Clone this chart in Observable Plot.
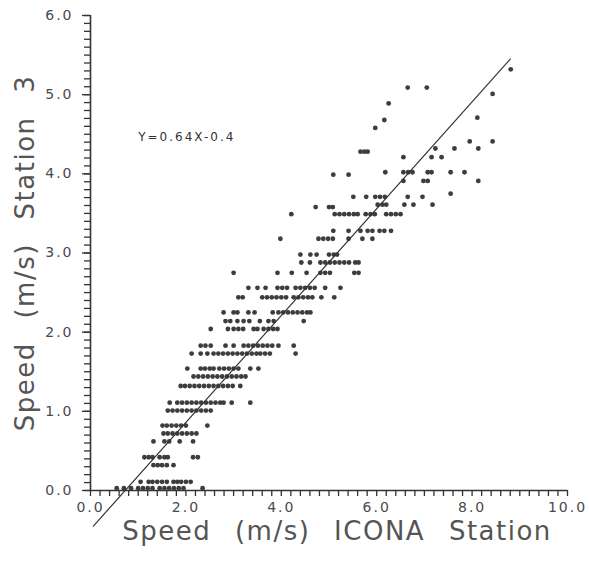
<!DOCTYPE html>
<html>
<head>
<meta charset="utf-8">
<script src="https://cdn.jsdelivr.net/npm/d3@7"></script>
<script src="https://cdn.jsdelivr.net/npm/@observablehq/plot@0.6"></script>
<style>
  html, body { margin: 0; padding: 0; background: #fff; }
  g[aria-description="xticklabels"] text, g[aria-description="yticklabels"] text { letter-spacing: 2px; }
  g[aria-description="axislabels"] text { letter-spacing: 1.5px; word-spacing: 14px; }
  g[aria-description="annotation"] text { letter-spacing: 2px; }
</style>
</head>
<body>
<div id="chart"></div>
<script>
// ---- data: rows of [Station 3 speed, [ICONA speeds]] ----
const lowRows = [
  [0.03, [0.55, 0.7, 0.85, 1.0, 1.1, 1.2, 1.3, 1.45, 1.55, 1.65, 1.75, 1.85, 1.95, 2.35]],
  [0.11, [1.05, 1.22, 1.3, 1.4, 1.5, 1.6, 1.74, 1.82, 1.9, 2.0, 2.1]],
  [0.32, [1.32, 1.41, 1.5, 1.6, 1.74]],
  [0.42, [1.13, 1.22, 1.3, 1.45, 1.55, 1.62, 2.15, 2.25]],
  [0.62, [1.32, 1.55, 1.65, 1.87, 2.15]],
  [0.72, [1.53, 1.62, 1.72, 1.82, 1.92, 2.02, 2.12, 2.22]],
  [0.82, [1.51, 1.6, 1.7, 1.8, 1.9, 2.0, 2.45]],
  [1.01, [1.62, 1.72, 1.82, 1.92, 2.02, 2.12, 2.22, 2.32, 2.42, 2.52]],
  [1.11, [1.66, 1.82, 1.92, 2.02, 2.12, 2.22, 2.32, 2.42, 2.52, 2.62, 2.72, 2.79, 2.96, 3.35]],
  [1.32, [1.89, 1.98, 2.08, 2.18, 2.28, 2.38, 2.48, 2.58, 2.68, 2.78, 2.88, 2.98, 3.14]]
];
const midRows = [
  [1.44, [2.16, 2.26, 2.36, 2.46, 2.56, 2.66, 2.76, 2.86, 2.96, 3.06, 3.16, 3.25]],
  [1.54, [2.03, 2.31, 2.4, 2.5, 2.58, 2.7, 2.8, 2.9, 3.0, 3.1, 3.35, 3.52]],
  [1.73, [2.12, 2.31, 2.45, 2.58, 2.68, 2.78, 2.88, 2.98, 3.08, 3.18, 3.28, 3.38, 3.48, 3.56, 3.66, 3.76, 4.3]],
  [1.83, [2.31, 2.41, 2.52, 2.83, 3.0, 3.21, 3.31, 3.41, 3.51, 3.61, 3.71, 3.81, 3.94, 4.26]],
  [2.04, [2.52, 2.88, 3.0, 3.1, 3.2, 3.42, 3.5, 3.63, 3.73, 3.83, 3.92]],
  [2.14, [2.83, 2.93, 3.08, 3.21, 3.33, 3.55, 3.73, 3.84, 4.47]],
  [2.25, [2.79, 3.0, 3.08, 3.31, 3.44, 3.82, 3.94, 4.04, 4.14, 4.24, 4.34, 4.44, 4.54, 4.61]],
  [2.44, [3.1, 3.19, 3.6, 3.7, 3.8, 3.9, 4.0, 4.1, 4.26, 4.36, 4.46, 4.56, 4.65, 4.84, 5.11]],
  [2.56, [3.31, 3.5, 3.67, 3.92, 4.02, 4.12, 4.3, 4.4, 4.5, 4.6, 4.7, 4.92, 5.24]],
  [2.75, [3.0, 3.92, 4.22, 4.53, 4.82, 4.92, 5.02, 5.53, 5.62]],
  [2.88, [4.42, 4.6, 4.82, 4.92, 5.02, 5.12, 5.22, 5.32, 5.42, 5.55, 5.62]],
  [2.98, [4.4, 4.61, 4.74, 5.0, 5.1, 5.17]]
];
const highRows = [
  [3.18, [3.98, 4.78, 4.88, 4.98, 5.08, 5.41, 5.7, 5.91]],
  [3.28, [5.09, 5.41, 5.66, 5.81, 5.91, 6.06, 6.16, 6.3]],
  [3.49, [4.21, 5.12, 5.22, 5.32, 5.42, 5.52, 5.6, 5.77, 5.87, 5.96, 6.2, 6.3, 6.4, 6.5]],
  [3.58, [4.72, 5.0, 5.08]],
  [3.61, [6.02, 6.12, 6.2, 6.58, 6.77, 7.17]],
  [3.71, [5.51, 5.78, 5.97, 6.07, 6.17, 6.65, 6.96]],
  [3.75, [7.55]],
  [3.91, [6.56, 6.98, 7.07, 8.13]],
  [3.99, [5.09, 5.41]],
  [4.02, [6.18, 6.56, 6.66, 6.75, 7.07, 7.15, 7.55, 7.84]],
  [4.21, [6.56, 7.15, 7.36]],
  [4.28, [5.66, 5.74, 5.81]],
  [4.32, [7.23, 7.63, 8.13]],
  [4.41, [7.95, 8.43]],
  [4.58, [5.97]],
  [4.68, [6.16]],
  [4.71, [8.11]],
  [4.89, [6.25]],
  [5.01, [8.43]],
  [5.09, [6.65, 7.05]],
  [5.32, [8.81]]
];
// fitted line as drawn
const fitX = [0.06, 8.8];
const fitY = [-0.45, 5.45];
const fitLabel = "Y=0.64X-0.4";
const fitLabelX = 1.0;
const fitLabelY = 4.46;

const xMajorTicks = [0, 2, 4, 6, 8, 10];
const xTickLabels = ["0.0", "2.0", "4.0", "6.0", "8.0", "10.0"];
const yMajorTicks = [0, 1, 2, 3, 4, 5, 6];
const yTickLabels = ["0.0", "1.0", "2.0", "3.0", "4.0", "5.0", "6.0"];
const xTitle = "Speed (m/s) ICONA Station";
const yTitle = "Speed (m/s) Station 3";

// ---- build ----
const points = [...lowRows, ...midRows, ...highRows]
  .flatMap(([y, xs]) => xs.map(x => ({x, y})));
const fit = fitX.map((x, i) => ({x, y: fitY[i]}));
const xMinor = d3.range(0, 10.0001, 0.2);
const yMinor = d3.range(0, 6.0001, 0.1);

const axisColor = "#333";
const textColor = "#4a4a4a";

const chart = Plot.plot({
  width: 589,
  height: 562,
  marginLeft: 90,
  marginRight: 22,
  marginTop: 15,
  marginBottom: 72,
  x: {domain: [0, 10]},
  y: {domain: [0, 6]},
  style: {fontFamily: "DejaVu Sans", background: "#fff", overflow: "visible"},
  marks: [
    Plot.axisX({ticks: xMinor, tickSize: 6, fill: "none", label: null, stroke: axisColor, strokeWidth: 1.3}),
    Plot.axisY({ticks: yMinor, tickSize: 6, fill: "none", label: null, stroke: axisColor, strokeWidth: 1.3}),
    Plot.axisY({ticks: yMajorTicks, tickSize: 8, fill: "none", label: null, stroke: axisColor, strokeWidth: 1.3}),
    Plot.ruleY([0], {stroke: axisColor, strokeWidth: 1.6}),
    Plot.ruleX([0], {stroke: axisColor, strokeWidth: 1.6}),
    Plot.text(xMajorTicks, {x: d => d, y: 0, text: (d, i) => xTickLabels[i], dy: 17, fontSize: 14, fill: textColor, ariaDescription: "xticklabels"}),
    Plot.text(yMajorTicks, {x: 0, y: d => d, text: (d, i) => yTickLabels[i], textAnchor: "end", dx: -17, fontSize: 14, fill: textColor, ariaDescription: "yticklabels"}),
    Plot.text([xTitle], {frameAnchor: "bottom", text: d => d, textAnchor: "middle", lineAnchor: "middle", dy: 41, dx: 8, fontSize: 26, fill: "#555", ariaDescription: "axislabels"}),
    Plot.text([yTitle], {frameAnchor: "left", text: d => d, textAnchor: "middle", lineAnchor: "middle", rotate: -90, dx: -65, dy: 0, fontSize: 26, fill: "#555", ariaDescription: "axislabels"}),
    Plot.text([fitLabel], {x: fitLabelX, y: fitLabelY, text: d => d, textAnchor: "start", fontSize: 12, fill: "#333", ariaDescription: "annotation"}),
    Plot.dot(points, {x: "x", y: "y", r: 2.4, fill: "#3d3d3d", stroke: "none"}),
    Plot.line(fit, {x: "x", y: "y", stroke: "#333", strokeWidth: 1.2})
  ]
});
document.getElementById("chart").appendChild(chart);
</script>
</body>
</html>
